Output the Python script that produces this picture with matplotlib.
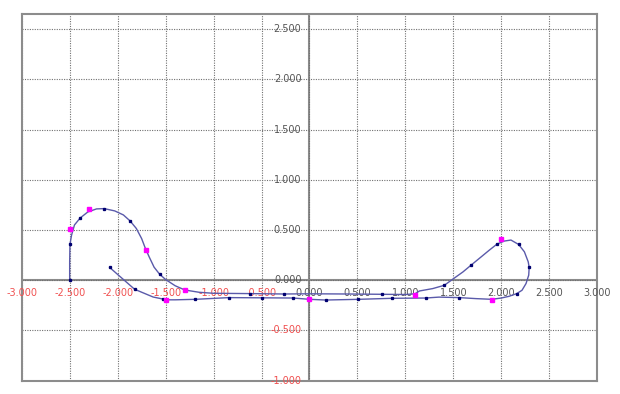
import numpy as np
import matplotlib
matplotlib.use('Agg')
import matplotlib.pyplot as plt

# Path of the curve in drawing order
curve_x = [-2.5, -2.5, -2.497, -2.48, -2.45, -2.39, -2.31, -2.22, -2.14, -2.03,
           -1.94, -1.87, -1.805, -1.75, -1.71, -1.67, -1.62, -1.5625, -1.5, -1.4,
           -1.30, -1.15, -1.0, -0.62, -0.27, 0.0, 0.4, 0.76, 1.0, 1.10,
           1.146, 1.285, 1.406, 1.503, 1.60, 1.684, 1.79, 1.875, 1.955, 2.03,
           2.10, 2.18, 2.24, 2.28, 2.29, 2.285, 2.257, 2.215, 2.16, 2.08,
           2.0, 1.90, 1.736, 1.5625, 1.35, 1.21, 0.86, 0.51, 0.17, 0.0,
           -0.17, -0.5, -0.84, -1.19, -1.40, -1.5, -1.53, -1.63, -1.823, -2.083]
curve_y = [0.0, 0.18, 0.356, 0.45, 0.55, 0.62, 0.68, 0.71, 0.713, 0.69,
           0.65, 0.59, 0.515, 0.415, 0.315, 0.23, 0.13, 0.06, 0.007, -0.055,
           -0.097, -0.12, -0.13, -0.133, -0.137, -0.135, -0.137, -0.14, -0.142, -0.135,
           -0.107, -0.083, -0.05, 0.017, 0.083, 0.15, 0.233, 0.30, 0.36, 0.39,
           0.40, 0.356, 0.283, 0.183, 0.127, 0.05, -0.033, -0.10, -0.133, -0.16,
           -0.177, -0.19, -0.183, -0.173, -0.168, -0.177, -0.18, -0.19, -0.197, -0.19,
           -0.177, -0.175, -0.173, -0.19, -0.195, -0.195, -0.187, -0.167, -0.09, 0.127]

# small navy dots along the curve
dot_x = [-2.5, -2.497, -2.39, -2.14, -1.87, -1.5625, -0.62, -0.27, 0.76, 1.406,
         1.684, 1.955, 2.18, 2.29, 2.16, 1.5625, 1.21, 0.86, 0.51, 0.17,
         -0.17, -0.5, -0.84, -1.19, -1.53, -1.823, -2.083]
dot_y = [0.0, 0.356, 0.62, 0.713, 0.59, 0.06, -0.133, -0.137, -0.14, -0.05,
         0.15, 0.36, 0.356, 0.127, -0.133, -0.173, -0.177, -0.18, -0.19, -0.197,
         -0.177, -0.175, -0.173, -0.19, -0.187, -0.09, 0.127]

# magenta control points
ctrl_x = [-2.5, -2.30, -1.705, -1.30, -1.5, 0.0, 1.10, 2.0, 1.90]
ctrl_y = [0.505, 0.71, 0.305, -0.095, -0.195, -0.19, -0.143, 0.41, -0.195]

x_ticks = [-3.0, -2.5, -2.0, -1.5, -1.0, -0.5, 0.0, 0.5, 1.0, 1.5, 2.0, 2.5, 3.0]
y_ticks = [-1.0, -0.5, 0.0, 0.5, 1.0, 1.5, 2.0, 2.5]

NEG_COLOR = '#f05050'
POS_COLOR = '#555555'

fig = plt.figure(figsize=(6.2, 3.94), dpi=100)
ax = fig.add_axes([21.7 / 620, (394 - 380.7) / 394, (597.3 - 21.7) / 620, (380.7 - 14) / 394])
ax.set_xlim(-3.0, 3.0)
ax.set_ylim(-1.0, 2.65)

# dotted grid
ax.set_xticks(x_ticks)
ax.set_yticks(y_ticks)
ax.tick_params(length=0, labelbottom=False, labelleft=False)
ax.grid(True, color='#707070', linestyle=(0, (1, 1.2)), linewidth=0.8)

for s in ax.spines.values():
    s.set_color('#8c8c8c')
    s.set_linewidth(1.5)

# axes through the origin
ax.axhline(0, color='#8c8c8c', linewidth=1.5, zorder=1.5)
ax.axvline(0, color='#8c8c8c', linewidth=1.5, zorder=1.5)

# tick labels
for x in x_ticks:
    ax.annotate(f'{x:.3f}', (x, 0), xytext=(0, -13), textcoords='offset pixels',
                ha='center', va='center', fontsize=7,
                color=NEG_COLOR if x < 0 else POS_COLOR)
for y in y_ticks:
    ax.annotate(f'{y:.3f}', (0, y), xytext=(-8, 0), textcoords='offset pixels',
                ha='right', va='center', fontsize=7,
                color=NEG_COLOR if y < 0 else POS_COLOR)

ax.plot(curve_x, curve_y, color='#5a5aaa', linewidth=1.0, zorder=3)
ax.plot(dot_x, dot_y, linestyle='none', marker='s', markersize=1.4,
        color='#000070', zorder=4)
ax.plot(ctrl_x, ctrl_y, linestyle='none', marker='s', markersize=3.0,
        color='#ff00ff', zorder=5)

fig.savefig('out.png', dpi=100)
